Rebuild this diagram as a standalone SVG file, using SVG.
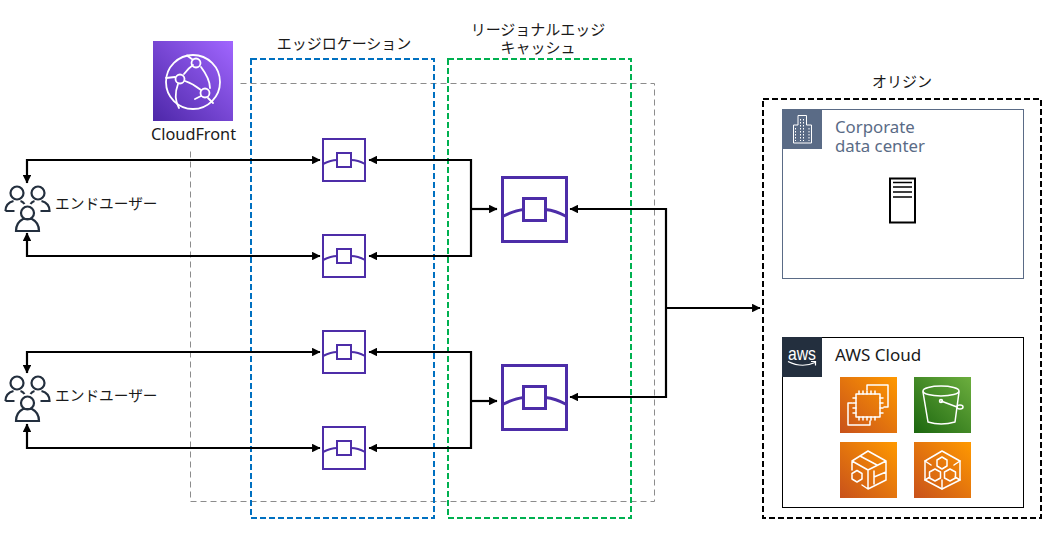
<svg xmlns="http://www.w3.org/2000/svg" width="1058" height="541" viewBox="0 0 1058 541">
<style>
text{font-family:"Noto Sans","Noto Sans CJK JP",sans-serif;fill:#1a1a1a;font-size:15px}
.j{font-family:"Noto Sans CJK JP","Noto Sans",sans-serif;font-size:15px}
.u{font-size:14.700px}
.m{text-anchor:middle}
.conn{fill:none;stroke:#000;stroke-width:2.200}
.w{fill:none;stroke:#fff;stroke-width:1.500;stroke-linejoin:round;stroke-linecap:round}
.edge{fill:#fff;stroke:#4d2da8;stroke-width:2}
.edge path{fill:none}
.user{fill:none;stroke:#232f3e;stroke-width:2.200}
</style>
<defs>
<marker id="a" viewBox="0 0 8 8" refX="7.500" refY="4" markerWidth="8.500" markerHeight="8.500" markerUnits="userSpaceOnUse" orient="auto-start-reverse"><path d="M0 0L8 4L0 8z" fill="#000"/></marker>
<linearGradient id="gp" x1="0" y1="1" x2="1" y2="0"><stop offset="0" stop-color="#4d27a8"/><stop offset="1" stop-color="#a166ff"/></linearGradient>
<linearGradient id="go" x1="0" y1="1" x2="1" y2="0"><stop offset="0" stop-color="#c8511b"/><stop offset="1" stop-color="#ff9900"/></linearGradient>
<linearGradient id="gg" x1="0" y1="1" x2="1" y2="0"><stop offset="0" stop-color="#1b660f"/><stop offset="1" stop-color="#6cae3e"/></linearGradient>
<g id="users" class="user">
<circle cx="-10.500" cy="-16" r="6.500"/><circle cx="10.500" cy="-16" r="6.500"/><circle cx="0" cy="4" r="6.500"/>
<path d="M-22 2c0-6 4-9 8-10M-7-8c2 .5 3 1.500 4 3M3-5c1-1.500 2-2.500 4-3M14-8c4 1 8 4 8 10h-9M-22 2h9"/>
<path d="M-11.500 22c0-7 3-10 7-12h9c4 2 7 5 7 12z"/>
</g>
<g id="small" class="edge">
<rect x="0" y="0" width="42" height="42"/>
<path d="M0 25Q8 21 14 21M28 21Q35 21 42 25"/>
<rect x="14" y="14" width="14" height="14"/>
</g>
<g id="large" class="edge" style="stroke-width:3">
<rect x="0" y="0" width="64" height="64"/>
<path d="M0 39Q12 33 21 32M43 32Q53 33 64 39"/>
<rect x="21" y="21" width="22" height="22"/>
</g>
</defs>
<rect width="1058" height="541" fill="#fff"/>
<g id="cloudfront-region"><rect x="190.500" y="83.500" width="464" height="418" fill="none" stroke="#8c8c8c" stroke-dasharray="6 4"/></g>
<g id="edge-location-group"><rect x="251" y="59" width="183" height="459" fill="none" stroke="#0070c0" stroke-width="2" stroke-dasharray="6 3"/><text class="j m" x="344" y="49">エッジロケーション</text></g>
<g id="regional-group"><rect x="448" y="59" width="183" height="459" fill="none" stroke="#00b050" stroke-width="2" stroke-dasharray="6 3"/><text class="j m" y="35"><tspan x="538" y="35">リージョナルエッジ</tspan><tspan x="538" y="53">キャッシュ</tspan></text></g>
<g id="cloudfront">
<rect x="150" y="38" width="87" height="112" fill="#fff"/>
<rect x="153" y="41" width="80" height="80" fill="url(#gp)"/>
<g class="w" style="stroke-width:1.800">
<circle cx="193" cy="82" r="27"/>
<path d="M166 78l9 -1M184 74c3-4 6-7 9-9M192.500 59.500L187 55.500M201 67c6 8 9 15 9 21M185 81c6 2 11 5 16 9M178 84c-3 8-3 17 1 24M208 98l5 5M201 96l-6 3"/>
<circle cx="180" cy="79" r="4.500"/><circle cx="196" cy="63" r="4.500"/><circle cx="205" cy="93" r="4.500"/>
</g>
<text x="151" y="140" style="font-size:16.300px">CloudFront</text>
</g>
<g id="connectors" class="conn">
<path d="M27 183V160H320" marker-start="url(#a)" marker-end="url(#a)"/>
<path d="M27 233V256H320" marker-start="url(#a)" marker-end="url(#a)"/>
<path d="M27 373V352H320" marker-start="url(#a)" marker-end="url(#a)"/>
<path d="M27 424V448H320" marker-start="url(#a)" marker-end="url(#a)"/>
<path d="M471 209H497" marker-end="url(#a)"/><path d="M471 401H497" marker-end="url(#a)"/>
<path d="M369 160H471V256H369" marker-start="url(#a)" marker-end="url(#a)"/>
<path d="M369 352H471V448H369" marker-start="url(#a)" marker-end="url(#a)"/>
<path d="M570 209H666V397H570" marker-start="url(#a)" marker-end="url(#a)"/>
<path d="M666 308H760" marker-end="url(#a)"/>
</g>
<g id="edge1"><use href="#small" x="323" y="139"/></g>
<g id="edge2"><use href="#small" x="323" y="235"/></g>
<g id="edge3"><use href="#small" x="323" y="331"/></g>
<g id="edge4"><use href="#small" x="323" y="427"/></g>
<g id="regional1"><use href="#large" x="502.500" y="177.500"/></g>
<g id="regional2"><use href="#large" x="502.500" y="365.500"/></g>
<g id="users1"><use href="#users" x="27.500" y="209"/><text class="j u" x="55" y="209">エンドユーザー</text></g>
<g id="users2"><use href="#users" x="27.500" y="399"/><text class="j u" x="55" y="401">エンドユーザー</text></g>
<g id="origin"><rect x="763" y="99" width="278" height="419" fill="none" stroke="#000" stroke-width="2" stroke-dasharray="6 3"/><text class="j m" x="902" y="87">オリジン</text></g>
<g id="corporate">
<rect x="782.500" y="109.500" width="241" height="169" fill="#fff" stroke="#5a6b86"/>
<rect x="782" y="109" width="40" height="40" fill="#5a6b86"/>
<path d="M793.500 143V125h4.500V115.500h8.500V125h5V143z" fill="none" stroke="#fff" stroke-width="1"/>
<path d="M800.500 119v22M803.500 119v22M795.500 128v13M809 128v13" fill="none" stroke="#fff" stroke-width="1" stroke-dasharray="1.500 1.500"/>
<text style="fill:#5a6b86;font-size:16.800px"><tspan x="835" y="133">Corporate</tspan><tspan x="835" y="152">data center</tspan></text>
<rect x="890" y="178.500" width="25" height="44" fill="#fff" stroke="#000" stroke-width="2"/>
<path d="M893 182.500h19M893 187h19M893 192h19M893 197h19" stroke="#000" stroke-width="1.500" fill="none"/>
</g>
<g id="aws-cloud">
<rect x="782.500" y="337.500" width="241" height="170" fill="#fff" stroke="#000"/>
<rect x="782" y="337" width="40" height="40" fill="#232f3e"/>
<text x="788" y="360" textLength="28" lengthAdjust="spacingAndGlyphs" style="fill:#fff;font-size:19px;font-family:'Liberation Sans',sans-serif">aws</text>
<path d="M788 361.500q14 7 27 1M811 361.500h4.500v4" fill="none" stroke="#fff" stroke-width="1.200"/>
<text x="835" y="361" style="font-size:17px">AWS Cloud</text>
</g>
<g id="ec2">
<rect x="840" y="377" width="57" height="56" fill="url(#go)"/>
<g class="w"><rect x="856" y="394" width="24" height="23"/><path d="M867 390v-5h21v22h-4M859 394v-3M863 394v-3M867 394v-3M871 394v-3M875 394v-3M859 420v-3M863 420v-3M867 420v-3M871 420v-3M875 420v-3M856 398h-3M856 403h-3M856 408h-3M856 413h-3M880 398h3M880 403h3M880 408h3M880 413h3M852 403h-4v22h22v-4"/></g>
</g>
<g id="s3">
<rect x="914" y="377" width="57" height="56" fill="url(#gg)"/>
<g class="w"><ellipse cx="941" cy="391" rx="18" ry="5"/><path d="M923 392l5 30q13 4 27 0l4-30M941 401l16 6"/><ellipse cx="960" cy="407" rx="3" ry="2"/><circle cx="941" cy="401" r="1.500"/></g>
</g>
<g id="lambda">
<rect x="840" y="442" width="57" height="56" fill="url(#go)"/>
<g class="w"><path d="M852 470v-9l16-10 18 10v19l-18 9-6-4M852 461l16 9v19M886 461l-18 9M860 456l17 9M874 471v13M874 477l12-5"/><path d="M857 470.500l5 3v5.500l-5 3-5-3v-5.500z"/></g>
</g>
<g id="cluster">
<rect x="914" y="442" width="57" height="56" fill="url(#go)"/>
<g class="w"><path d="M942 451l18 10v19l-18 9-17-9v-19z"/><path d="M942 457l5 3v6l-5 3-5-3v-6zM935 469l5.500 3v6l-5.500 3-5.500-3v-6zM950 469l5.500 3v6l-5.500 3-5.500-3v-6zM925 461l6 4M960 461l-6 4M942 480v9M925 480l5-3M960 480l-5-3"/></g>
</g>
</svg>
